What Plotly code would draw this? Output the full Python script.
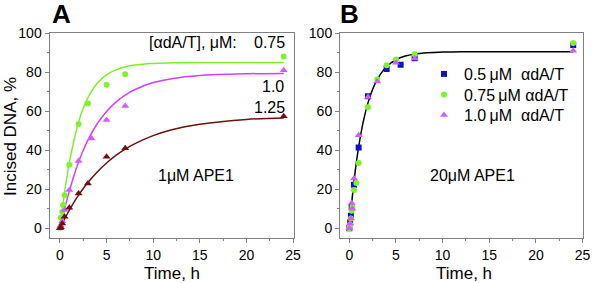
import plotly.graph_objects as go

W, H = 593, 283

# ---------------- Panel A: 1 uM APE1 ----------------
a_t_075 = [0, 0.083, 0.25, 0.33, 0.5, 1, 2, 3, 5, 7, 24]
a_y_075 = [0.3, 5.4, 8.5, 12, 17, 32.6, 53.5, 64, 73.6, 79, 88]
a_t_100 = [0, 0.083, 0.25, 0.5, 1, 2, 3.4, 5, 7, 24]
a_y_100 = [0.3, 1.5, 3.7, 9.4, 19.6, 34.5, 46, 55.5, 62.7, 81]
a_t_125 = [0, 0.083, 0.25, 0.5, 1, 2, 3, 5, 7, 24]
a_y_125 = [0, 0.5, 2.5, 6, 10.6, 17.9, 23, 36.7, 41, 57.5]

# fitted curves
fit_t = [0, 0.25, 0.5, 0.75, 1, 1.5, 2, 2.5, 3, 4, 5, 6, 7, 8, 10, 12, 15, 20, 24]
a_fit_075 = [0, 9.5, 18.5, 26.5, 33.5, 45.0, 54.5, 61.5, 67.0, 74.4, 78.7, 81.2, 82.8, 83.7, 84.5, 84.8, 85.0, 85.0, 85.0]
a_fit_100 = [0, 5.0, 10.0, 14.6, 19.0, 27.0, 34.0, 40.0, 45.2, 53.6, 59.9, 64.7, 68.3, 71.0, 74.7, 76.7, 78.3, 79.2, 79.4]
a_fit_125 = [0, 2.5, 4.8, 7.1, 9.2, 13.3, 17.0, 20.4, 23.5, 28.9, 33.5, 37.4, 40.6, 43.3, 47.5, 50.5, 53.3, 55.8, 56.6]

# ---------------- Panel B: 20 uM APE1 ----------------
b_t_05 = [0, 0.083, 0.17, 0.25, 0.5, 1, 2, 4, 5.5, 7, 24]
b_y_05 = [0, 3, 6.5, 11, 22.4, 41.4, 67.7, 81.6, 83.8, 87.2, 94]
b_t_075 = [0, 0.083, 0.17, 0.25, 0.33, 0.5, 0.75, 1, 2, 3, 4, 5, 7, 24]
b_y_075 = [0, 2, 5, 9, 11, 19.7, 23.3, 33.5, 62, 76.4, 83.6, 86.5, 89.2, 95]
b_t_100 = [0, 0.083, 0.17, 0.25, 0.33, 0.5, 1, 2, 3, 5, 7, 24]
b_y_100 = [0, 2.5, 5, 13, 10, 25.6, 47.7, 67.3, 75.2, 84.8, 87, 91]
b_fit = [0, 13.0, 24.1, 33.7, 41.8, 54.8, 64.3, 71.3, 76.4, 82.9, 86.4, 88.3, 89.3, 89.9, 90.3, 90.5, 90.5, 90.5, 90.5]

x_ticks = [0, 5, 10, 15, 20, 25]
y_ticks = [0, 20, 40, 60, 80, 100]

GREEN = "#7CF528"
GREEN_LINE = "#80EE30"
MAG = "#D35CFF"
MAG_LINE = "#D040FF"
RED = "#6E1010"
BLUE = "#1010C8"

fig = go.Figure()

# Panel A curves + points
for fit, col in [(a_fit_075, GREEN_LINE), (a_fit_100, MAG_LINE), (a_fit_125, RED)]:
    fig.add_trace(go.Scatter(x=fit_t, y=fit, mode="lines", line=dict(color=col, width=1.5, shape="spline"),
                             showlegend=False, xaxis="x", yaxis="y", hoverinfo="skip"))
fig.add_trace(go.Scatter(x=a_t_075, y=a_y_075, mode="markers", marker=dict(symbol="circle", size=6, color=GREEN),
                         showlegend=False, xaxis="x", yaxis="y"))
fig.add_trace(go.Scatter(x=a_t_100, y=a_y_100, mode="markers", marker=dict(symbol="triangle-up", size=7, color=MAG),
                         showlegend=False, xaxis="x", yaxis="y"))
fig.add_trace(go.Scatter(x=a_t_125, y=a_y_125, mode="markers", marker=dict(symbol="triangle-up", size=7, color=RED),
                         showlegend=False, xaxis="x", yaxis="y"))

# Panel B curve + points
fig.add_trace(go.Scatter(x=fit_t, y=b_fit, mode="lines", line=dict(color="black", width=1.5, shape="spline"),
                         showlegend=False, xaxis="x2", yaxis="y2", hoverinfo="skip"))
fig.add_trace(go.Scatter(x=b_t_05, y=b_y_05, mode="markers", marker=dict(symbol="square", size=6, color=BLUE),
                         name="0.5\u2009\u03bcM\u00a0\u00a0\u03b1dA/T", xaxis="x2", yaxis="y2", legend="legend"))
fig.add_trace(go.Scatter(x=b_t_075, y=b_y_075, mode="markers", marker=dict(symbol="circle", size=6, color=GREEN),
                         name="0.75\u2009\u03bcM\u00a0\u03b1dA/T", xaxis="x2", yaxis="y2", legend="legend2"))
fig.add_trace(go.Scatter(x=b_t_100, y=b_y_100, mode="markers", marker=dict(symbol="triangle-up", size=7, color=MAG),
                         name="1.0\u2009\u03bcM\u00a0\u00a0\u03b1dA/T", xaxis="x2", yaxis="y2", legend="legend3"))

FONT = "Liberation Sans, Arial, sans-serif"
GRAY = "#808080"

def xax(domain, rng, anchor):
    return dict(domain=domain, range=rng, tickvals=x_ticks, ticks="outside", ticklen=4, tickcolor=GRAY,
                showline=True, linecolor=GRAY, linewidth=1, mirror=True, showgrid=False, zeroline=False,
                anchor=anchor, automargin=False,
                tickfont=dict(size=14, color="black", family=FONT),
                minor=dict(ticks="outside", ticklen=2, tickcolor=GRAY, dtick=2.5, tick0=0))

def yax(anchor):
    return dict(domain=[1 - 238.3 / H, 1 - 32.8 / H], range=[-5.1, 100.2], tickvals=y_ticks, ticks="outside",
                ticklen=4, tickcolor=GRAY, showline=True, linecolor=GRAY, linewidth=1, mirror=True,
                showgrid=False, zeroline=False, anchor=anchor, automargin=False,
                tickfont=dict(size=14, color="black", family=FONT),
                minor=dict(ticks="outside", ticklen=2, tickcolor=GRAY, dtick=10, tick0=0))

def px(x):
    return x / W

def py(y):
    return 1 - y / H

ann = []
def text(s, x, y, size=16, xanchor="center", bold=False, angle=0):
    ann.append(dict(text=("<b>%s</b>" % s) if bold else s, x=px(x), y=py(y), xref="paper", yref="paper",
                    xanchor=xanchor, yanchor="middle", showarrow=False, textangle=angle,
                    font=dict(size=size, color="black", family=FONT)))

text("A", 61, 14, size=26, bold=True)
text("B", 349, 14, size=26, bold=True)
text("Incised DNA, %", 10, 137, size=17, angle=-90)
text("Time, h", 172, 273, size=17)
text("Time, h", 464, 273, size=17)
text("[\u03b1dA/T], \u03bcM:", 147, 43, size=16, xanchor="left")
text("0.75", 287, 43, size=16, xanchor="right")
text("1.0", 286, 87, size=16, xanchor="right")
text("1.25", 287, 107, size=16, xanchor="right")
text("1\u03bcM APE1", 196, 175, size=16)
text("20\u03bcM APE1", 472, 175, size=16)

def leg(row_y):
    return dict(x=px(424), y=py(row_y), xanchor="left", yanchor="middle", bgcolor="rgba(0,0,0,0)",
                font=dict(size=16, color="black", family=FONT), itemwidth=30)

fig.update_layout(
    width=W, height=H, margin=dict(l=0, r=0, t=0, b=0, pad=0, autoexpand=False),
    paper_bgcolor="white", plot_bgcolor="white",
    xaxis=xax([49.5 / W, 293.5 / W], [-1.12, 25.05], "y"),
    yaxis=yax("x"),
    xaxis2=xax([340 / W, 583.3 / W], [-1.0, 25.08], "y2"),
    yaxis2=yax("x2"),
    annotations=ann,
    legend=leg(74), legend2=leg(94.5), legend3=leg(115),
    showlegend=True,
)

fig.write_html("out.html", config={"displayModeBar": False},
               post_script="document.body.style.margin='0';document.body.style.overflow='hidden';")
